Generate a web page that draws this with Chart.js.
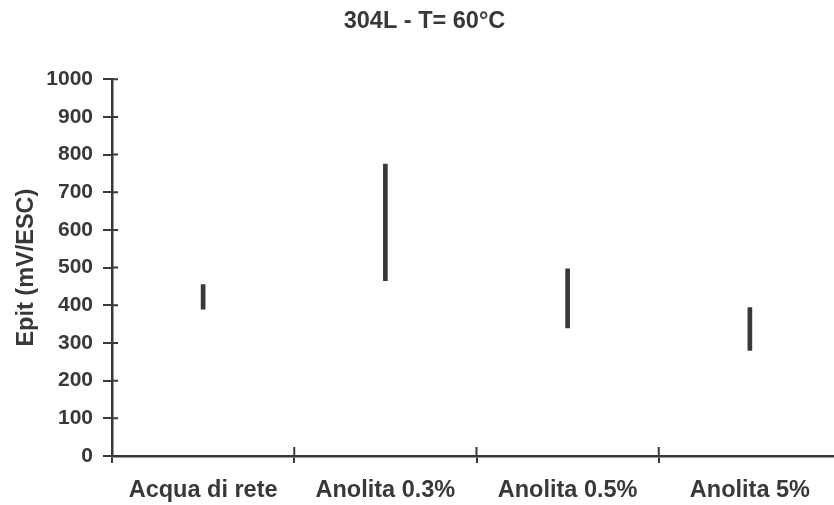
<!DOCTYPE html>
<html>
<head>
<meta charset="utf-8">
<script src="https://cdn.jsdelivr.net/npm/chart.js@4/dist/chart.umd.min.js"></script>
<style>
  html, body { margin: 0; padding: 0; background: #fff; overflow: hidden; }
  #grafico { display: block; }
</style>
</head>
<body>
<canvas id="grafico" width="846" height="505"></canvas>
<script>
// Dati del grafico
var categorie = ["Acqua di rete", "Anolita 0.3%", "Anolita 0.5%", "Anolita 5%"];
var epitMin = [390, 465, 340, 280];
var epitMax = [455, 775, 497, 394];
var tickY = [0, 100, 200, 300, 400, 500, 600, 700, 800, 900, 1000];

var grigio = "#383838";
var font = "Liberation Sans, Arial, sans-serif";

// Intervalli min-max per ogni condizione
var intervalli = [];
for (let i = 0; i < categorie.length; i++) {
    intervalli.push([epitMin[i], epitMax[i]]);
}

// Tacche che attraversano l'asse (parte interna)
var tacchePlugin = {
    id: "tacche",
    afterDraw: function(chart) {
        let ctx = chart.ctx;
        let sx = chart.scales.x;
        let sy = chart.scales.y;
        ctx.save();
        ctx.strokeStyle = grigio;
        ctx.lineWidth = 2;
        ctx.beginPath();
        for (let i = 0; i < tickY.length; i++) {
            let py = sy.getPixelForValue(tickY[i]);
            ctx.moveTo(sx.left, py);
            ctx.lineTo(sx.left + 6, py);
        }
        let passo = sx.width / categorie.length;
        for (let i = 0; i <= categorie.length; i++) {
            let px = sx.left + i * passo;
            ctx.moveTo(px, sy.bottom);
            ctx.lineTo(px, sy.bottom - 9);
        }
        ctx.stroke();
        ctx.restore();
    }
};

new Chart("grafico", {
    type: "bar",
    data: {
        labels: categorie,
        datasets: [{
            data: intervalli,
            backgroundColor: grigio,
            borderWidth: 0,
            barThickness: 4
        }]
    },
    options: {
        responsive: false,
        animation: false,
        layout: { padding: { left: 8, right: 5, top: 0, bottom: 0 } },
        plugins: {
            legend: { display: false },
            tooltip: { enabled: false },
            title: {
                display: true,
                text: "304L - T= 60°C",
                color: grigio,
                font: { family: font, size: 23.5, weight: "bold" },
                padding: { top: 7, bottom: 44 }
            }
        },
        scales: {
            x: {
                grid: {
                    display: true,
                    drawOnChartArea: false,
                    drawTicks: true,
                    tickLength: 7,
                    color: grigio,
                    lineWidth: 2
                },
                border: { display: true, color: grigio, width: 2.5 },
                ticks: {
                    color: grigio,
                    padding: 13,
                    font: { family: font, size: 23.5, weight: "bold" }
                },
                afterFit: function(scale) { scale.height = 49; }
            },
            y: {
                min: 0,
                max: 1000,
                afterBuildTicks: function(scale) {
                    scale.ticks = tickY.map(function(v) { return { value: v }; });
                },
                grid: {
                    display: true,
                    drawOnChartArea: false,
                    drawTicks: true,
                    tickLength: 9,
                    color: grigio,
                    lineWidth: 2
                },
                border: { display: true, color: grigio, width: 2.5 },
                ticks: {
                    color: grigio,
                    padding: 10,
                    font: { family: font, size: 21, weight: "bold" },
                    callback: function(v) { return String(v); }
                },
                title: {
                    display: true,
                    text: "Epit (mV/ESC)",
                    color: grigio,
                    padding: { top: 4, bottom: 4 },
                    font: { family: font, size: 23.5, weight: "bold" }
                },
                afterFit: function(scale) { scale.width = 104; }
            }
        }
    },
    plugins: [tacchePlugin]
});
</script>
</body>
</html>
